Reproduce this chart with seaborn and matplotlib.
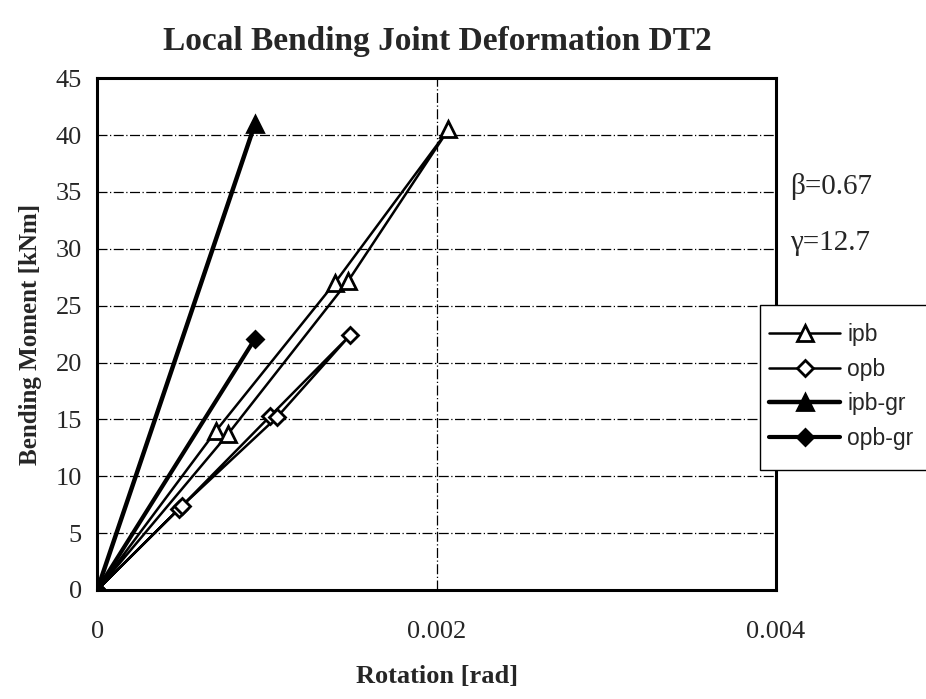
import matplotlib
matplotlib.use("Agg")
import matplotlib.pyplot as plt
from matplotlib.patches import Rectangle
import seaborn as sns
import pandas as pd

# Rotation [rad] and bending moment [kNm] for each test series
ipb_rot = [0.0, 0.00070, 0.00140, 0.00207, 0.00148, 0.00077, 0.0]
ipb_mom = [0.0, 14.0, 27.0, 40.5, 27.2, 13.7, 0.0]

opb_rot = [0.0, 0.00048, 0.00102, 0.00149, 0.00106, 0.00050, 0.0]
opb_mom = [0.0, 7.1, 15.3, 22.4, 15.2, 7.4, 0.0]

ipb_gr_rot = [0.0, 0.00093]
ipb_gr_mom = [0.0, 41.0]

opb_gr_rot = [0.0, 0.00093]
opb_gr_mom = [0.0, 22.1]

x_ticks = [0, 0.002, 0.004]
x_tick_labels = ["0", "0.002", "0.004"]
y_ticks = [0, 5, 10, 15, 20, 25, 30, 35, 40, 45]

sns.set_style("white")
plt.rcParams["font.family"] = ["Liberation Serif", "DejaVu Serif"]

fig = plt.figure(figsize=(9.26, 6.99), dpi=100)
ax = fig.add_axes([0.105, 0.156, 0.733, 0.732])

series = [
    ("ipb", ipb_rot, ipb_mom, dict(marker="^", markerfacecolor="white", linewidth=1.8, markersize=11)),
    ("opb", opb_rot, opb_mom, dict(marker="D", markerfacecolor="white", linewidth=1.8, markersize=8)),
    ("ipb-gr", ipb_gr_rot, ipb_gr_mom, dict(marker="^", markerfacecolor="black", linewidth=3.2, markersize=11)),
    ("opb-gr", opb_gr_rot, opb_gr_mom, dict(marker="D", markerfacecolor="black", linewidth=3.0, markersize=8)),
]

for name, xs, ys, style in series:
    df = pd.DataFrame({"rot": xs, "mom": ys})
    sns.lineplot(data=df, x="rot", y="mom", sort=False, estimator=None, ax=ax,
                 color="black", markeredgecolor="black", markeredgewidth=2.0,
                 label=name, legend=False, **style)

ax.set_xlim(0, 0.004)
ax.set_ylim(0, 45)
ax.set_xticks(x_ticks)
ax.set_xticklabels(x_tick_labels)
ax.set_yticks(y_ticks)

# horizontal grid every 5 kNm and a vertical line at 0.002 rad
for yv in y_ticks[1:-1]:
    ax.axhline(yv, color="black", linewidth=0.9, linestyle=(0, (8, 2, 1, 2)), zorder=0)
ax.axvline(0.002, color="black", linewidth=0.9, linestyle=(0, (8, 2, 1, 2)), zorder=0)

for sp in ax.spines.values():
    sp.set_color("black")
    sp.set_linewidth(2.2)

ax.tick_params(axis="both", length=0, labelsize=19)
ax.tick_params(axis="x", pad=22)
ax.tick_params(axis="y", pad=11)

ax.set_xlabel("Rotation [rad]", fontsize=19, fontweight="bold", labelpad=16)
ax.set_ylabel("Bending Moment [kNm]", fontsize=18, fontweight="bold", labelpad=10)
fig.suptitle("Local Bending Joint Deformation DT2", fontsize=24, fontweight="bold",
             x=0.472, y=0.963)

fig.text(0.853, 0.723, "β=0.67", fontsize=21)
fig.text(0.853, 0.643, "γ=12.7", fontsize=21)

# legend box runs past the right edge of the figure
W, H = 926, 699
fig.patches.append(Rectangle((760 / W, 1 - 470 / H), 200 / W, 165 / H,
                             transform=fig.transFigure, facecolor="white",
                             edgecolor="black", linewidth=1.0, zorder=9))

handles = ax.get_lines()[:4]
labels = [s[0] for s in series]
leg = fig.legend(handles, labels, loc="upper left", bbox_to_anchor=(751 / W, 1 - 305 / H),
                 bbox_transform=fig.transFigure, frameon=False,
                 prop={"family": "Liberation Sans", "size": 16.5}, handlelength=3.1,
                 handletextpad=0.3, labelspacing=0.5, borderpad=0.3)
leg.set_zorder(10)

fig.savefig("out.png", dpi=100, facecolor="white")
